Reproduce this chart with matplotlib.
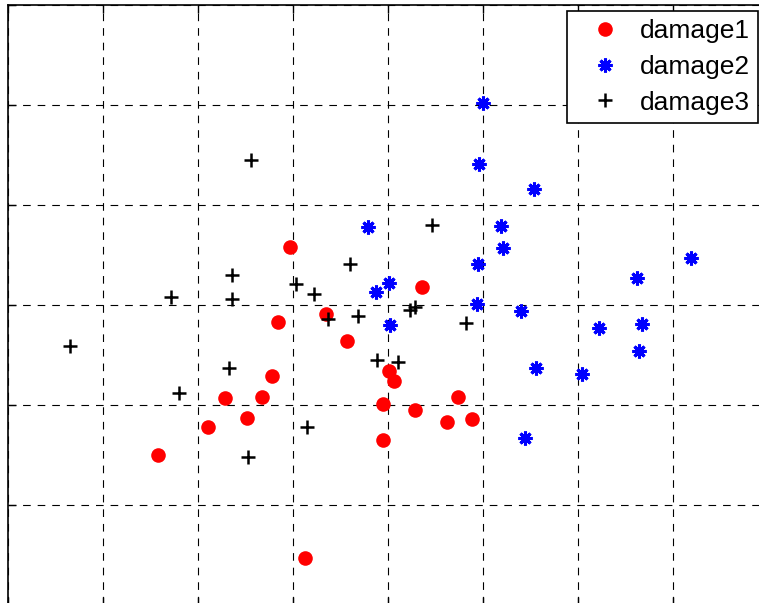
import numpy as np
import matplotlib.pyplot as plt

plt.rcParams['font.family'] = ['Liberation Sans', 'DejaVu Sans']
plt.rcParams['lines.scale_dashes'] = False

# damage1 (red circles)
x1 = [1.58, 2.11, 2.28, 2.52, 2.67, 2.78, 2.84, 2.97, 3.13, 3.35,
      3.57, 3.95, 3.95, 4.01, 4.06, 4.28, 4.36, 4.62, 4.74, 4.88]
y1 = [1.50, 1.78, 2.07, 1.87, 2.08, 2.29, 2.83, 3.58, 0.47, 2.91,
      2.64, 2.01, 1.65, 2.34, 2.24, 1.95, 3.18, 1.83, 2.08, 1.86]

# damage2 (blue asterisks)
x2 = [5.00, 4.96, 5.54, 3.79, 5.19, 5.21, 7.19, 4.95, 6.62, 4.01,
      3.87, 4.94, 5.40, 4.02, 6.67, 6.22, 6.64, 5.56, 6.04, 5.44]
y2 = [5.02, 4.41, 4.16, 3.78, 3.79, 3.57, 3.47, 3.41, 3.27, 3.22,
      3.13, 3.01, 2.94, 2.80, 2.81, 2.77, 2.54, 2.37, 2.31, 1.67]

# damage3 (black plus)
x3 = [2.56, 4.46, 3.60, 2.36, 3.03, 3.22, 1.72, 2.36, 3.68, 3.37,
      4.28, 4.23, 4.82, 0.65, 3.88, 4.11, 2.33, 1.80, 3.15, 2.53]
y3 = [4.45, 3.80, 3.41, 3.30, 3.21, 3.11, 3.08, 3.06, 2.89, 2.86,
      2.98, 2.95, 2.82, 2.59, 2.45, 2.43, 2.37, 2.12, 1.78, 1.48]

W, H = 759, 603
fig = plt.figure(figsize=(W / 100, H / 100), dpi=100)
# axes run past the right and bottom edges of the picture
ax = fig.add_axes([8 / W, 1 - (5 + 600) / H, 760 / W, 600 / H])

ax.plot(x1, y1, 'o', color='red', ms=10.5, mew=0, label='damage1')
ax.plot(x2, y2, ls='none', marker=(8, 2, 0), color='blue', ms=10, mew=2.2, label='damage2')
ax.plot(x3, y3, '+', color='black', ms=10, mew=1.8, label='damage3')

ax.set_xlim(0, 8)
ax.set_ylim(0, 6)
ax.set_xticks(np.arange(0, 9, 1))
ax.set_yticks(np.arange(0, 7, 1))
ax.tick_params(direction='in', length=6, width=1, top=True, right=True,
               labelleft=False, labelbottom=False)
ax.grid(True, color='black', linestyle=(0, (5.5, 5)), linewidth=0.8)
for s in ax.spines.values():
    s.set_linewidth(1.2)

leg = ax.legend(loc='upper left', bbox_to_anchor=(567 / W, 1 - 11 / H),
                bbox_transform=fig.transFigure, fontsize=19, fancybox=False,
                framealpha=1, edgecolor='black', borderaxespad=0,
                borderpad=0.3, handlelength=2.3, handletextpad=0.15,
                labelspacing=0.45, numpoints=1)
leg.get_frame().set_linewidth(1.2)

fig.savefig('out.png', dpi=100)
